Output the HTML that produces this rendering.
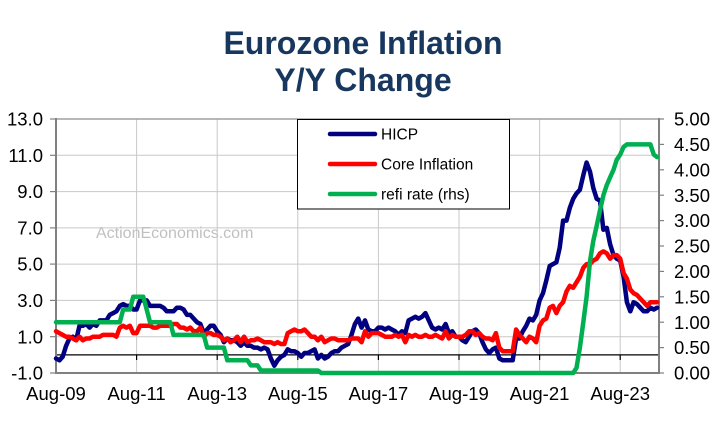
<!DOCTYPE html>
<html><head><meta charset="utf-8">
<style>
html,body{margin:0;padding:0;background:#fff;width:714px;height:424px;overflow:hidden}
svg{display:block}
text{font-family:"Liberation Sans",Arial,sans-serif}
</style></head>
<body>
<svg width="714" height="424" viewBox="0 0 714 424" xmlns="http://www.w3.org/2000/svg">
<rect width="714" height="424" fill="#ffffff"/>
<!-- Title -->
<text x="363" y="54" text-anchor="middle" font-size="32" font-weight="bold" fill="#17375E">Eurozone Inflation</text>
<text x="363" y="91" text-anchor="middle" font-size="32" font-weight="bold" fill="#17375E">Y/Y Change</text>

<!-- Gridlines -->
<g stroke="#C8C8C8" stroke-width="1" fill="none">
  <line x1="56" y1="155.3" x2="659" y2="155.3"/>
  <line x1="56" y1="191.6" x2="659" y2="191.6"/>
  <line x1="56" y1="227.9" x2="659" y2="227.9"/>
  <line x1="56" y1="264.1" x2="659" y2="264.1"/>
  <line x1="56" y1="300.4" x2="659" y2="300.4"/>
  <line x1="56" y1="336.7" x2="659" y2="336.7"/>
  <line x1="136.6" y1="119" x2="136.6" y2="373"/>
  <line x1="217.2" y1="119" x2="217.2" y2="373"/>
  <line x1="297.8" y1="119" x2="297.8" y2="373"/>
  <line x1="378.4" y1="119" x2="378.4" y2="373"/>
  <line x1="459.0" y1="119" x2="459.0" y2="373"/>
  <line x1="539.6" y1="119" x2="539.6" y2="373"/>
  <line x1="620.2" y1="119" x2="620.2" y2="373"/>
</g>
<!-- top border -->
<line x1="56" y1="119" x2="659" y2="119" stroke="#A0A0A0" stroke-width="1.5"/>

<!-- Zero line with ticks -->
<g stroke="#000" stroke-width="1.2">
  <line x1="56" y1="354.9" x2="659" y2="354.9"/>
  <line x1="136.6" y1="354.9" x2="136.6" y2="360"/>
  <line x1="217.2" y1="354.9" x2="217.2" y2="360"/>
  <line x1="297.8" y1="354.9" x2="297.8" y2="360"/>
  <line x1="378.4" y1="354.9" x2="378.4" y2="360"/>
  <line x1="459.0" y1="354.9" x2="459.0" y2="360"/>
  <line x1="539.6" y1="354.9" x2="539.6" y2="360"/>
  <line x1="620.2" y1="354.9" x2="620.2" y2="360"/>
</g>

<!-- Axes -->
<g stroke="#808080" stroke-width="2" fill="none">
  <line x1="56" y1="118" x2="56" y2="374"/>
  <line x1="659" y1="118" x2="659" y2="374"/>
  <line x1="55" y1="373" x2="660" y2="373"/>
</g>
<g stroke="#808080" stroke-width="1.2">
  <line x1="50" y1="119" x2="56" y2="119"/>
  <line x1="50" y1="155.3" x2="56" y2="155.3"/>
  <line x1="50" y1="191.6" x2="56" y2="191.6"/>
  <line x1="50" y1="227.9" x2="56" y2="227.9"/>
  <line x1="50" y1="264.1" x2="56" y2="264.1"/>
  <line x1="50" y1="300.4" x2="56" y2="300.4"/>
  <line x1="50" y1="336.7" x2="56" y2="336.7"/>
  <line x1="50" y1="373" x2="56" y2="373"/>
  <line x1="659" y1="119" x2="664" y2="119"/>
  <line x1="659" y1="144.4" x2="664" y2="144.4"/>
  <line x1="659" y1="169.8" x2="664" y2="169.8"/>
  <line x1="659" y1="195.2" x2="664" y2="195.2"/>
  <line x1="659" y1="220.6" x2="664" y2="220.6"/>
  <line x1="659" y1="246" x2="664" y2="246"/>
  <line x1="659" y1="271.4" x2="664" y2="271.4"/>
  <line x1="659" y1="296.8" x2="664" y2="296.8"/>
  <line x1="659" y1="322.2" x2="664" y2="322.2"/>
  <line x1="659" y1="347.6" x2="664" y2="347.6"/>
  <line x1="659" y1="373" x2="664" y2="373"/>
</g>

<!-- Left labels -->
<g font-size="18.5" fill="#000" text-anchor="end">
  <text x="43" y="125.6">13.0</text>
  <text x="43" y="161.9">11.0</text>
  <text x="43" y="198.2">9.0</text>
  <text x="43" y="234.5">7.0</text>
  <text x="43" y="270.7">5.0</text>
  <text x="43" y="307.0">3.0</text>
  <text x="43" y="343.3">1.0</text>
  <text x="43" y="379.6">-1.0</text>
</g>
<!-- Right labels -->
<g font-size="18.5" fill="#000">
  <text x="674" y="125.6">5.00</text>
  <text x="674" y="151.0">4.50</text>
  <text x="674" y="176.4">4.00</text>
  <text x="674" y="201.8">3.50</text>
  <text x="674" y="227.2">3.00</text>
  <text x="674" y="252.6">2.50</text>
  <text x="674" y="278.0">2.00</text>
  <text x="674" y="303.4">1.50</text>
  <text x="674" y="328.8">1.00</text>
  <text x="674" y="354.2">0.50</text>
  <text x="674" y="379.6">0.00</text>
</g>
<!-- X labels -->
<g font-size="18.5" fill="#000" text-anchor="middle">
  <text x="56" y="400">Aug-09</text>
  <text x="136.6" y="400">Aug-11</text>
  <text x="217.2" y="400">Aug-13</text>
  <text x="297.8" y="400">Aug-15</text>
  <text x="378.4" y="400">Aug-17</text>
  <text x="459.0" y="400">Aug-19</text>
  <text x="539.6" y="400">Aug-21</text>
  <text x="620.2" y="400">Aug-23</text>
</g>

<!-- Watermark -->
<text x="96" y="238" font-size="16" fill="#C0C0C0">ActionEconomics.com</text>

<!-- Series -->
<path id="hicp" fill="none" stroke="#000080" stroke-width="4.5" stroke-linejoin="round" stroke-linecap="round" d=""/>
<path id="core" fill="none" stroke="#FF0000" stroke-width="4.5" stroke-linejoin="round" stroke-linecap="round" d=""/>
<path id="refi" fill="none" stroke="#00B050" stroke-width="4.5" stroke-linejoin="round" stroke-linecap="round" d=""/>

<!-- Legend -->
<rect x="297.5" y="119.5" width="212" height="89.5" fill="#ffffff" stroke="#000" stroke-width="1"/>
<g stroke-width="4.5" stroke-linecap="round">
  <line x1="330" y1="134" x2="375" y2="134" stroke="#000080"/>
  <line x1="330" y1="164" x2="375" y2="164" stroke="#FF0000"/>
  <line x1="330" y1="194" x2="375" y2="194" stroke="#00B050"/>
</g>
<g font-size="15.5" fill="#000">
  <text x="381" y="139.5">HICP</text>
  <text x="381" y="169.5">Core Inflation</text>
  <text x="381" y="199.5">refi rate (rhs)</text>
</g>
</svg>
<script>
(function(){
var hicp=[-0.2,-0.3,-0.1,0.5,0.9,
1.0,0.8,1.6,1.6,1.7,1.5,1.7,1.6,1.9,1.9,1.9,2.2,
2.3,2.4,2.7,2.8,2.7,2.7,2.5,2.5,3.0,3.0,3.0,2.7,
2.7,2.7,2.7,2.6,2.4,2.4,2.4,2.6,2.6,2.5,2.2,2.2,
2.0,1.8,1.7,1.2,1.4,1.6,1.6,1.3,1.1,0.7,0.9,0.8,
0.8,0.7,0.5,0.7,0.5,0.5,0.4,0.4,0.3,0.4,0.3,-0.2,
-0.6,-0.3,-0.1,0.0,0.3,0.2,0.2,0.1,-0.1,0.1,0.1,0.2,
0.3,-0.2,0.0,-0.2,-0.1,0.1,0.2,0.2,0.4,0.5,0.6,1.1,
1.7,2.0,1.5,1.9,1.4,1.3,1.3,1.5,1.5,1.4,1.5,1.4,
1.3,1.1,1.3,1.2,1.9,2.0,2.1,2.0,2.1,2.3,1.9,1.5,
1.4,1.5,1.4,1.7,1.2,1.3,1.0,1.0,0.8,0.7,1.0,1.3,
1.4,1.2,0.7,0.3,0.1,0.3,0.4,-0.2,-0.3,-0.3,-0.3,-0.3,
0.9,0.9,1.3,1.6,2.0,1.9,2.2,3.0,3.4,4.1,4.9,5.0,
5.1,5.9,7.4,7.4,8.1,8.6,8.9,9.1,9.9,10.6,10.1,9.2,
8.6,8.5,6.9,7.0,6.1,5.5,5.3,5.2,4.3,2.9,2.4,2.9,
2.8,2.6,2.4,2.4,2.6,2.5,2.6];
var core=[1.3,1.2,1.1,1.0,1.0,
0.9,0.8,1.0,0.8,0.9,0.9,1.0,1.0,1.0,1.1,1.1,1.1,
1.1,1.0,1.5,1.6,1.5,1.6,1.2,1.2,1.6,1.6,1.6,1.6,
1.5,1.5,1.6,1.6,1.6,1.6,1.7,1.7,1.5,1.5,1.4,1.5,
1.3,1.3,1.5,1.0,1.2,1.2,1.1,1.1,1.0,0.8,0.9,0.7,
0.8,1.0,0.7,1.0,0.7,0.8,0.8,0.9,0.8,0.7,0.7,0.7,
0.6,0.7,0.6,0.6,1.2,1.3,1.4,1.3,1.3,1.4,1.2,1.0,
1.0,0.8,1.0,0.7,0.8,0.9,0.9,0.8,0.8,0.8,0.8,0.9,
0.9,0.9,0.7,1.3,1.0,1.2,1.2,1.2,1.1,1.0,1.0,1.0,
1.1,1.0,1.1,0.7,1.1,1.0,1.1,1.0,1.0,1.1,1.0,1.0,
1.1,1.0,0.9,1.3,0.9,1.1,1.0,1.0,1.0,1.1,1.3,1.3,
1.1,1.2,1.0,0.9,0.9,0.8,1.2,0.4,0.2,0.2,0.2,0.2,
1.4,1.1,0.9,0.7,1.0,0.9,0.7,1.6,1.9,2.0,2.6,2.7,
2.3,2.7,2.9,3.5,3.8,3.7,4.0,4.3,4.8,5.0,5.0,5.2,
5.3,5.6,5.7,5.6,5.3,5.5,5.5,5.3,4.5,4.2,3.6,3.4,
3.3,3.1,2.9,2.7,2.9,2.9,2.9];
var refi=[];
function rep(v,n){for(var k=0;k<n;k++)refi.push(v);}
rep(1.0,20);rep(1.25,3);rep(1.5,4);rep(1.25,1);rep(1.0,7);rep(0.75,10);rep(0.5,6);rep(0.25,7);rep(0.15,3);rep(0.05,18);rep(0,76);
[0.1,0.5,1.0,1.5,2.2,2.6,2.9,3.2,3.5,3.7,3.85,4.0,4.2,4.3,4.45,4.5].forEach(function(v){refi.push(v);});
rep(4.5,7);refi.push(4.3);refi.push(4.25);
function X(i){return 56+i*3.35833;}
function YL(v){return 119+(13-v)*18.1429;}
function YR(v){return 373-v*50.8;}
function path(arr,f){var s='';for(var i=0;i<arr.length;i++){s+=(i?'L':'M')+X(i).toFixed(1)+' '+f(arr[i]).toFixed(1);}return s;}
document.getElementById('hicp').setAttribute('d',path(hicp,YL));
document.getElementById('core').setAttribute('d',path(core,YL));
document.getElementById('refi').setAttribute('d',path(refi,YR));
})();
</script>
</body></html>
